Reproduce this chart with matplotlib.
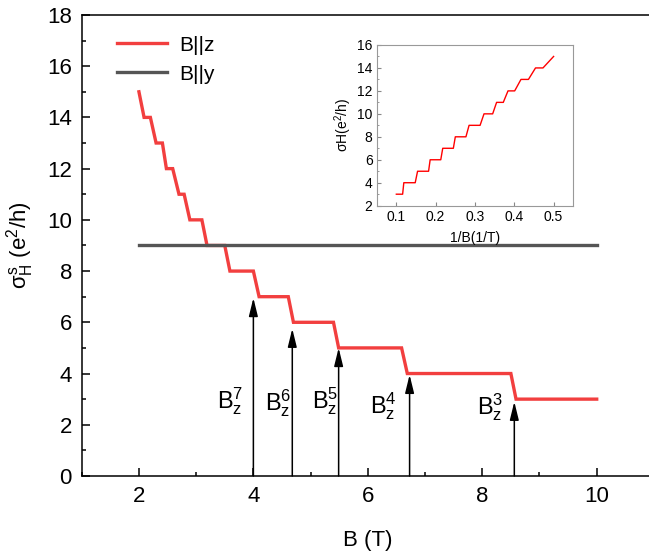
import numpy as np
import matplotlib
matplotlib.use('Agg')
import matplotlib.pyplot as plt

plt.rcParams['font.family'] = ['Liberation Sans', 'DejaVu Sans']
plt.rcParams['mathtext.fontset'] = 'custom'
plt.rcParams['mathtext.rm'] = 'Liberation Sans'
plt.rcParams['mathtext.it'] = 'Liberation Sans'
plt.rcParams['mathtext.bf'] = 'Liberation Sans:bold'

# main curve, B||z (vertices)
bz_B = [2.00, 2.09, 2.20, 2.30, 2.41, 2.48, 2.59, 2.70, 2.79, 2.89, 3.10, 3.19,
        3.50, 3.59, 4.00, 4.10, 4.61, 4.70, 5.40, 5.49, 6.59, 6.69, 8.50, 8.59, 10.0]
bz_sigma = [15, 14, 14, 13, 13, 12, 12, 11, 11, 10, 10, 9,
            9, 8, 8, 7, 7, 6, 6, 5, 5, 4, 4, 3, 3]

# B||y
by_B = [2.0, 10.0]
by_sigma = [9, 9]

# arrows B_z^n
arrow_n = [7, 6, 5, 4, 3]
arrow_B = [4.00, 4.68, 5.49, 6.73, 8.56]
arrow_tip = [6.95, 5.75, 5.0, 3.95, 2.9]
label_B = [3.60, 4.44, 5.26, 6.28, 8.14]
label_y = [2.94, 2.84, 2.94, 2.72, 2.68]

# inset: sigma vs 1/B
inv_B = [0.100, 0.116, 0.119, 0.148, 0.154, 0.182, 0.186, 0.213, 0.218, 0.245,
         0.250, 0.277, 0.285, 0.313, 0.323, 0.345, 0.355, 0.372, 0.384, 0.401,
         0.417, 0.436, 0.454, 0.473, 0.500]
inv_sigma = [3, 3, 4, 4, 5, 5, 6, 6, 7, 7,
             8, 8, 9, 9, 10, 10, 11, 11, 12, 12,
             13, 13, 14, 14, 15]

red = '#f23f3f'
gray = '#555555'

fig = plt.figure(figsize=(6.49, 5.58), dpi=100)
ax = fig.add_axes([0.1259, 0.147, 0.8817, 0.8262])

ax.plot(bz_B, bz_sigma, color=red, lw=2.4, label='B||z', solid_joinstyle='miter')
ax.plot(by_B, by_sigma, color=gray, lw=2.4, label='B||y')

for n, xb, tip, lx, ly in zip(arrow_n, arrow_B, arrow_tip, label_B, label_y):
    ax.annotate('', xy=(xb, tip), xytext=(xb, 0),
                arrowprops=dict(arrowstyle='-|>,head_length=1.1,head_width=0.27',
                                color='k', lw=1.1, shrinkA=0, shrinkB=0,
                                mutation_scale=10))
    ax.text(lx, ly, r'$\mathregular{B_z^{%d}}$' % n, fontsize=17,
            ha='center', va='center')

ax.set_xlim(1, 11)
ax.set_ylim(0, 18)
ax.set_xticks([2, 4, 6, 8, 10])
ax.set_xticks([1, 3, 5, 7, 9, 11], minor=True)
ax.set_yticks(np.arange(0, 19, 2))
ax.set_yticks(np.arange(1, 18, 2), minor=True)
ax.tick_params(which='both', direction='in', width=1.1, labelsize=16, pad=7)
ax.tick_params(which='major', length=6)
ax.tick_params(which='minor', length=3)
for s in ax.spines.values():
    s.set_linewidth(1.1)

ax.set_xlabel('B (T)', fontsize=16, labelpad=17)
ax.set_ylabel(r'$\sigma_H^s$ (e$^2$/h)', fontsize=16, labelpad=8)

ax.legend(loc='upper left', bbox_to_anchor=(0.062, 0.955), frameon=False,
          fontsize=15, handlelength=2.4, handletextpad=0.6, labelspacing=0.48,
          borderpad=0, borderaxespad=0)

# inset
ins = fig.add_axes([0.5804, 0.6314, 0.3029, 0.288])
ins.plot(inv_B, inv_sigma, color='red', lw=1.0)
ins.set_xlim(0.05, 0.55)
ins.set_ylim(2, 16)
ins.set_xticks([0.1, 0.2, 0.3, 0.4, 0.5])
ins.set_yticks(np.arange(2, 17, 2))
ins.set_yticks(np.arange(3, 16, 2), minor=True)
ins.tick_params(which='both', direction='in', labelsize=10, pad=3, color='#888888')
ins.tick_params(which='major', length=3)
ins.tick_params(which='minor', length=1.5)
for s in ins.spines.values():
    s.set_color('#999999')
    s.set_linewidth(0.8)
ins.set_xlabel('1/B(1/T)', fontsize=10, labelpad=5)
ins.set_ylabel(r'σH(e$^2$/h)', fontsize=10, labelpad=2)

fig.savefig('out.png', dpi=100)
